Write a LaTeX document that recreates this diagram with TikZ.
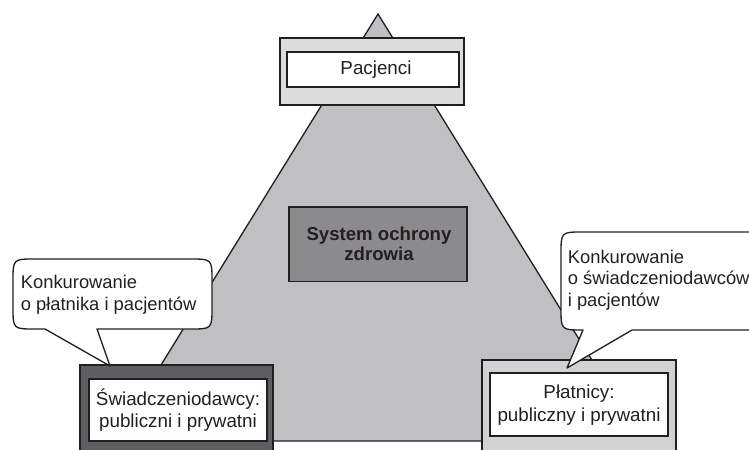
\documentclass[tikz,border=0pt]{standalone}
\usepackage{fontspec}
\setmainfont{Liberation Sans}
\definecolor{ink}{HTML}{231F20}
\definecolor{trigray}{HTML}{C0C0C2}
\definecolor{toplight}{HTML}{DCDCDC}
\definecolor{rightlight}{HTML}{D2D2D2}
\definecolor{leftdark}{HTML}{5E5E60}
\definecolor{centergray}{HTML}{8B8B8D}
\tikzset{
  outline/.style={draw=ink, line width=0.75pt},
  boxtext/.style={text=ink, align=center, inner sep=0pt, font=\fontsize{10.7}{12.8}\selectfont},
  bubbletext/.style={text=ink, align=left, inner sep=0pt, anchor=north west, font=\fontsize{10.45}{12.3}\selectfont},
  bubble/.style={outline, fill=white, line join=round},
}
\begin{document}
\begin{tikzpicture}[x=0.02cm, y=-0.02cm]
\useasboundingbox (0,0) rectangle (749,449);
\clip (0,0) rectangle (749,449);
% triangle
\coordinate (apex) at (378,14);
\coordinate (bl) at (114,441);
\coordinate (br) at (642,441);
\draw[outline, fill=trigray, line join=miter] (apex) -- (br) -- (bl) -- cycle;
% top box
\path[outline, fill=toplight] (280,38) rectangle (464,105);
\path[outline, fill=white] (287,52) rectangle (459,87);
\node[boxtext] (pacjenci) at (376,70) {Pacjenci};
% center box
\path[outline, fill=centergray] (289,207) rectangle (467,281.5);
\node[boxtext, font=\fontsize{10.6}{11.6}\selectfont\bfseries] (system) at (379,244) {System ochrony\\zdrowia};
% left box
\path[outline, fill=leftdark] (80,365) rectangle (273,452);
\path[outline, fill=white] (89,379) rectangle (267,441);
\node[boxtext] (swiad) at (178,410) {Świadczeniodawcy:\\publiczni i prywatni};
% right box
\path[outline, fill=rightlight] (482,360) rectangle (676,452);
\path[outline, fill=white] (490,373) rectangle (668,436);
\node[boxtext] (platnicy) at (579,405) {Płatnicy:\\publiczny i prywatni};
% left bubble
\draw[bubble] (45,329) -- (110,366) -- (97,329) -- (190,329)
  .. controls (212,329) .. (212,307) -- (212,281)
  .. controls (212,259) .. (190,259) -- (35,259)
  .. controls (13,259) .. (13,281) -- (13,307)
  .. controls (13,329) .. (35,329) -- cycle;
\node[bubbletext] (lbtext) at (20.5,275) {Konkurowanie\\o płatnika i pacjentów};
% right bubble
\draw[bubble] (583,330) -- (567,368) -- (632,330) -- (760,330) -- (760,232) -- (583,232)
  .. controls (561,232) .. (561,254) -- (561,308)
  .. controls (561,330) .. (583,330) -- cycle;
\node[bubbletext] (rbtext) at (567.5,249.5) {Konkurowanie\\o świadczeniodawców\\i pacjentów};
\end{tikzpicture}
\end{document}
